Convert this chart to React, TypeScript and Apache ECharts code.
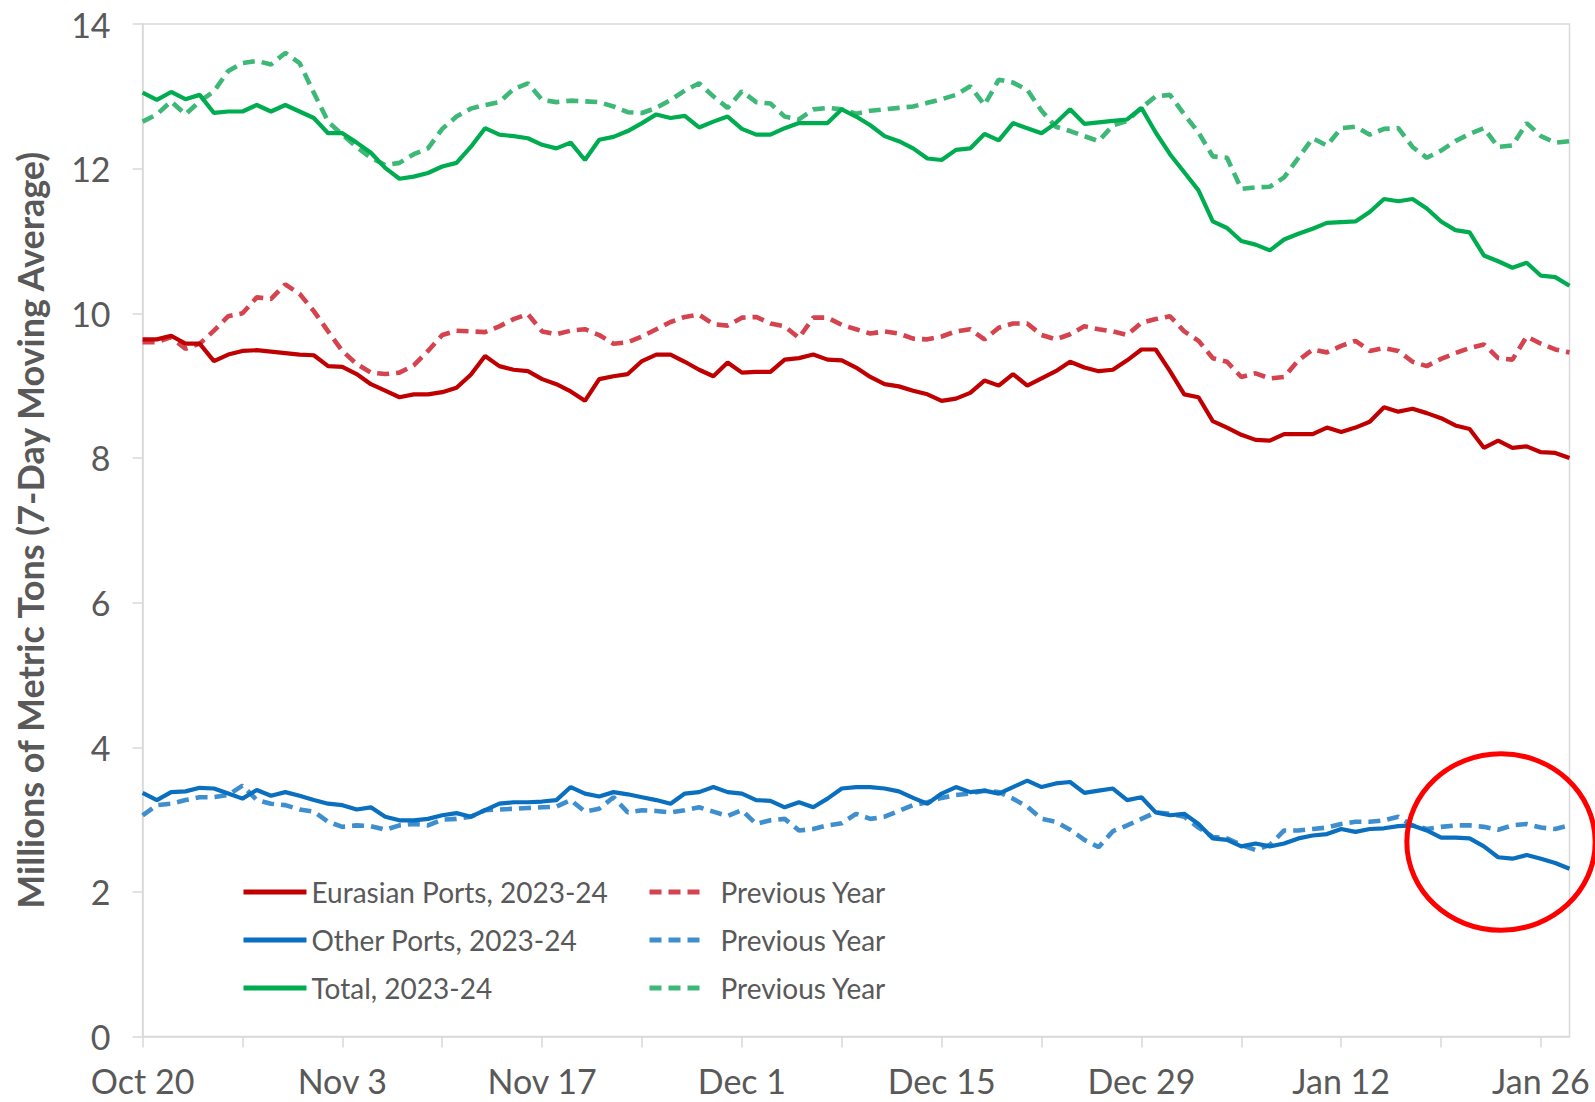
import React, { useEffect, useRef } from "react";
import * as echarts from "echarts";

// ---------- DATA ----------
const START = { year: 2023, month: 9, day: 20 }; // Oct 20, 2023
const N_DAYS = 101; // Oct 20 .. Jan 28
const MONTHS = ["Jan", "Feb", "Mar", "Apr", "May", "Jun", "Jul", "Aug", "Sep", "Oct", "Nov", "Dec"];
const categories: string[] = Array.from({ length: N_DAYS }, (_, i) => {
  const d = new Date(START.year, START.month, START.day + i);
  return `${MONTHS[d.getMonth()]} ${d.getDate()}`;
});
const LABEL_EVERY = 14; // Oct 20, Nov 3, ... Jan 26
const TICK_EVERY = 7;

const Y_TICKS = [0, 2, 4, 6, 8, 10, 12, 14];

const totalCurrent = [
  13.05, 12.95, 13.06, 12.96, 13.02, 12.77, 12.79, 12.79, 12.88, 12.79,
  12.88, 12.79, 12.7, 12.49, 12.49, 12.36, 12.22, 12.01, 11.86, 11.89,
  11.94, 12.03, 12.08, 12.3, 12.56, 12.47, 12.45, 12.42, 12.33, 12.28,
  12.36, 12.12, 12.4, 12.44, 12.52, 12.63, 12.75, 12.7, 12.73, 12.57,
  12.65, 12.72, 12.55, 12.47, 12.47, 12.56, 12.63, 12.63, 12.63, 12.82,
  12.72, 12.6, 12.45, 12.38, 12.28, 12.14, 12.12, 12.26, 12.28, 12.48,
  12.39, 12.63, 12.56, 12.49, 12.63, 12.82, 12.62, 12.64, 12.66, 12.68,
  12.84, 12.5, 12.2, 11.95, 11.7, 11.27, 11.18, 11.0, 10.95, 10.87,
  11.02, 11.1, 11.17, 11.25, 11.26, 11.27, 11.4, 11.58, 11.55, 11.58,
  11.45, 11.27, 11.15, 11.12, 10.8, 10.72, 10.63, 10.7, 10.52, 10.5,
  10.38,
];
const totalPrevious = [
  12.65, 12.75, 12.93, 12.75, 12.93, 13.07, 13.35, 13.46, 13.49, 13.44,
  13.6, 13.46, 13.05, 12.65, 12.47, 12.3, 12.15, 12.05, 12.08, 12.2,
  12.28, 12.55, 12.72, 12.83, 12.88, 12.92, 13.1, 13.18, 12.95, 12.92,
  12.94, 12.93, 12.92, 12.86, 12.78, 12.77, 12.84, 12.95, 13.08, 13.18,
  13.0, 12.84, 13.07, 12.92, 12.9, 12.72, 12.68, 12.82, 12.84, 12.82,
  12.76, 12.8, 12.82, 12.84, 12.86, 12.91, 12.96, 13.02, 13.14, 12.88,
  13.23, 13.19, 13.09, 12.8, 12.58, 12.52, 12.45, 12.38, 12.6, 12.66,
  12.84, 13.0, 13.02, 12.75, 12.5, 12.17, 12.15, 11.72, 11.74, 11.75,
  11.88, 12.15, 12.42, 12.32, 12.56, 12.58, 12.47, 12.55, 12.56, 12.3,
  12.15, 12.25, 12.38, 12.48, 12.56, 12.3, 12.32, 12.63, 12.45, 12.36,
  12.38,
];
const eurasianCurrent = [
  9.64, 9.64, 9.69, 9.58, 9.58, 9.34, 9.43, 9.48, 9.49, 9.47,
  9.45, 9.43, 9.42, 9.27, 9.26, 9.16, 9.02, 8.93, 8.84, 8.88,
  8.88, 8.91, 8.97, 9.15, 9.41, 9.27, 9.22, 9.2, 9.09, 9.02,
  8.92, 8.79, 9.09, 9.13, 9.16, 9.34, 9.43, 9.43, 9.33, 9.22,
  9.13, 9.32, 9.18, 9.19, 9.19, 9.36, 9.38, 9.43, 9.36, 9.35,
  9.25, 9.12, 9.02, 8.99, 8.93, 8.88, 8.79, 8.82, 8.9, 9.07,
  9.0, 9.16, 9.0, 9.1, 9.2, 9.33, 9.25, 9.2, 9.22, 9.35,
  9.5, 9.5, 9.2, 8.88, 8.84, 8.51, 8.42, 8.32, 8.25, 8.24,
  8.33, 8.33, 8.33, 8.42, 8.36, 8.42, 8.5, 8.7, 8.64, 8.68,
  8.62, 8.55, 8.45, 8.4, 8.14, 8.24, 8.14, 8.16, 8.08, 8.07,
  8.0,
];
const eurasianPrevious = [
  9.6, 9.6, 9.67, 9.51, 9.58, 9.76, 9.96, 10.0, 10.22, 10.2,
  10.4, 10.27, 10.03, 9.75, 9.48, 9.3, 9.18, 9.16, 9.18, 9.28,
  9.48, 9.7, 9.76, 9.75, 9.74, 9.82, 9.92, 9.99, 9.75, 9.71,
  9.76, 9.78, 9.7, 9.58, 9.6, 9.68, 9.78, 9.88, 9.95, 9.98,
  9.85, 9.83, 9.94, 9.95, 9.86, 9.82, 9.66, 9.94, 9.94, 9.84,
  9.78, 9.72, 9.75, 9.72, 9.65, 9.64, 9.68, 9.75, 9.78, 9.64,
  9.8, 9.86, 9.86, 9.7, 9.64, 9.71, 9.82, 9.78, 9.75, 9.7,
  9.87, 9.92, 9.96, 9.75, 9.62, 9.38, 9.33, 9.12, 9.17, 9.1,
  9.12, 9.35, 9.5, 9.46, 9.55, 9.62, 9.48, 9.52, 9.48, 9.33,
  9.27, 9.37, 9.45, 9.52, 9.57, 9.38, 9.36, 9.68, 9.58, 9.5,
  9.46,
];
const otherCurrent = [
  3.37, 3.27, 3.38, 3.39, 3.44, 3.43, 3.36, 3.29, 3.41, 3.33,
  3.38, 3.33, 3.27, 3.22, 3.2, 3.14, 3.17, 3.04, 2.99, 2.99,
  3.01, 3.06, 3.09, 3.04, 3.13, 3.22, 3.24, 3.24, 3.25, 3.27,
  3.45, 3.36, 3.32, 3.38, 3.35, 3.31, 3.27, 3.22, 3.36, 3.38,
  3.45, 3.38, 3.36, 3.27, 3.26, 3.17, 3.24, 3.17, 3.29, 3.43,
  3.45, 3.45, 3.43, 3.39, 3.3, 3.22, 3.36, 3.45, 3.38, 3.4,
  3.36, 3.45, 3.54, 3.45, 3.5, 3.52, 3.37, 3.4, 3.43, 3.27,
  3.31, 3.1, 3.06, 3.08, 2.94, 2.74, 2.72, 2.63, 2.67, 2.63,
  2.67, 2.74, 2.78, 2.8, 2.87, 2.83, 2.87, 2.88, 2.91, 2.92,
  2.85, 2.75, 2.75, 2.74, 2.63, 2.48, 2.46, 2.51, 2.46, 2.4,
  2.32,
];
const otherPrevious = [
  3.06, 3.2, 3.22, 3.27, 3.31, 3.31, 3.34, 3.47, 3.27, 3.22,
  3.2, 3.14, 3.11, 2.97, 2.9, 2.92, 2.91, 2.86, 2.92, 2.94,
  2.92, 3.0, 3.01, 3.04, 3.13, 3.14, 3.15, 3.16, 3.17, 3.18,
  3.27, 3.11, 3.15, 3.31, 3.1, 3.13, 3.12, 3.1, 3.13, 3.17,
  3.11, 3.05, 3.13, 2.94, 2.99, 3.01, 2.85, 2.87, 2.92, 2.95,
  3.08, 3.01, 3.04, 3.12, 3.2, 3.24, 3.3, 3.34, 3.36, 3.4,
  3.38, 3.29, 3.18, 3.01, 2.97, 2.86, 2.72, 2.62, 2.84, 2.92,
  3.01, 3.1, 3.08, 3.04, 2.89, 2.76, 2.74, 2.65, 2.58, 2.65,
  2.85, 2.85, 2.87, 2.89, 2.94, 2.97, 2.97, 2.99, 3.04, 2.92,
  2.87, 2.9, 2.92, 2.92, 2.9, 2.86, 2.92, 2.94, 2.89, 2.87,
  2.92,
];

const NAMES = {
  eurCur: "Eurasian Ports, 2023-24",
  othCur: "Other Ports, 2023-24",
  totCur: "Total, 2023-24",
  eurPrev: "Previous Year (Eurasian)",
  othPrev: "Previous Year (Other)",
  totPrev: "Previous Year (Total)",
};

// annotation circle (in data units): centre day index, value, half-width in days, half-height in value
const CIRCLE = { day: 95.2, value: 2.69, halfDays: 6.6, halfValue: 1.22 };

// ---------- STYLE ----------
const FONT = "Lato, 'Open Sans', 'Liberation Sans', sans-serif";
const TEXT_GREY = "#595959";
const AXIS_GREY = "#d9d9d9";
const COLORS = {
  red: "#C00000",
  redPrev: "#D4434E",
  blue: "#0A6FBF",
  bluePrev: "#3F8FCF",
  green: "#00AC50",
  greenPrev: "#3DB877",
};
const DASH = [12, 7];
const SOLID_W = 4.2;
const DASH_W = 4.6;

function lineSeries(name: string, data: number[], color: string, dashed: boolean, z: number) {
  return {
    name,
    type: "line",
    data,
    symbol: "none",
    smooth: false,
    z,
    lineStyle: { color, width: dashed ? DASH_W : SOLID_W, type: dashed ? DASH : "solid", cap: "butt" },
    itemStyle: { color },
    emphasis: { disabled: true },
  };
}

export default function App() {
  const ref = useRef<HTMLDivElement>(null);

  useEffect(() => {
    if (!ref.current) return;
    const chart = echarts.init(ref.current, null, { renderer: "svg" });
    const legendText = {
      color: TEXT_GREY,
      fontSize: 28,
      fontFamily: FONT,
      lineHeight: 30,
    };
    const option: any = {
      animation: false,
      backgroundColor: "#ffffff",
      textStyle: { fontFamily: FONT },
      grid: {
        left: 142.6,
        right: 25.5,
        top: 24,
        bottom: 65.4,
        show: true,
        borderColor: AXIS_GREY,
        borderWidth: 1.5,
        backgroundColor: "transparent",
        containLabel: false,
      },
      legend: [
        {
          data: [NAMES.eurCur, NAMES.othCur, NAMES.totCur],
          orient: "vertical",
          left: 236,
          top: 872,
          itemWidth: 63,
          itemHeight: 14,
          itemGap: 18,
          itemStyle: { opacity: 0 },
          lineStyle: { width: 5 },
          textStyle: legendText,
          selectedMode: false,
        },
        {
          data: [NAMES.eurPrev, NAMES.othPrev, NAMES.totPrev],
          orient: "vertical",
          left: 642,
          top: 872,
          itemWidth: 57,
          itemHeight: 14,
          itemGap: 18,
          itemStyle: { opacity: 0 },
          lineStyle: { width: 5 },
          textStyle: { ...legendText, padding: [0, 0, 0, 9] },
          selectedMode: false,
          formatter: (name: string) => (name.indexOf("Previous Year") === 0 ? "Previous Year" : name),
        },
      ],
      xAxis: {
        type: "category",
        data: categories,
        boundaryGap: false,
        axisLine: { show: true, lineStyle: { color: AXIS_GREY, width: 1.5 } },
        axisTick: {
          show: true,
          interval: (idx: number) => idx % TICK_EVERY === 0,
          length: 11,
          lineStyle: { color: AXIS_GREY, width: 1.5 },
        },
        axisLabel: {
          interval: (idx: number) => idx % LABEL_EVERY === 0,
          color: TEXT_GREY,
          fontSize: 34,
          fontFamily: FONT,
          margin: 27,
        },
        splitLine: { show: false },
      },
      yAxis: {
        type: "value",
        min: 0,
        max: 14,
        interval: 2,
        name: "Millions of Metric Tons (7-Day Moving Average)",
        nameLocation: "middle",
        nameRotate: 90,
        nameGap: 95,
        nameTextStyle: { color: TEXT_GREY, fontSize: 36, fontWeight: "bold", fontFamily: FONT },
        axisLine: { show: true, lineStyle: { color: AXIS_GREY, width: 1.5 } },
        axisTick: { show: true, length: 10, lineStyle: { color: AXIS_GREY, width: 1.5 } },
        axisLabel: {
          color: TEXT_GREY,
          fontSize: 34,
          fontFamily: FONT,
          margin: 32,
          formatter: (v: number) => (Y_TICKS.indexOf(v) >= 0 ? String(v) : ""),
        },
        splitLine: { show: false },
      },
      series: [
        lineSeries(NAMES.eurPrev, eurasianPrevious, COLORS.redPrev, true, 2),
        lineSeries(NAMES.othPrev, otherPrevious, COLORS.bluePrev, true, 2),
        lineSeries(NAMES.totPrev, totalPrevious, COLORS.greenPrev, true, 2),
        lineSeries(NAMES.eurCur, eurasianCurrent, COLORS.red, false, 3),
        lineSeries(NAMES.othCur, otherCurrent, COLORS.blue, false, 3),
        lineSeries(NAMES.totCur, totalCurrent, COLORS.green, false, 3),
      ],
    };
    chart.setOption(option);

    // position annotation from the axes' own scales (integer categories, then interpolate)
    const pA = chart.convertToPixel({ gridIndex: 0 } as any, [0, CIRCLE.value]) as number[];
    const pB = chart.convertToPixel({ gridIndex: 0 } as any, [
      N_DAYS - 1,
      CIRCLE.value + CIRCLE.halfValue,
    ]) as number[];
    if (pA && pB) {
      const dayPx = (pB[0] - pA[0]) / (N_DAYS - 1);
      chart.setOption({
        graphic: [
          {
            type: "ellipse",
            shape: {
              cx: pA[0] + CIRCLE.day * dayPx,
              cy: pA[1],
              rx: CIRCLE.halfDays * dayPx,
              ry: Math.abs(pA[1] - pB[1]),
            },
            style: { fill: "none", stroke: "#FF0000", lineWidth: 5 },
            z: 100,
            silent: true,
          },
        ],
      });
    }

    return () => chart.dispose();
  }, []);

  return (
    <div
      ref={ref}
      style={{ position: "fixed", left: 0, top: 0, width: 1595, height: 1102, background: "#ffffff" }}
    />
  );
}
